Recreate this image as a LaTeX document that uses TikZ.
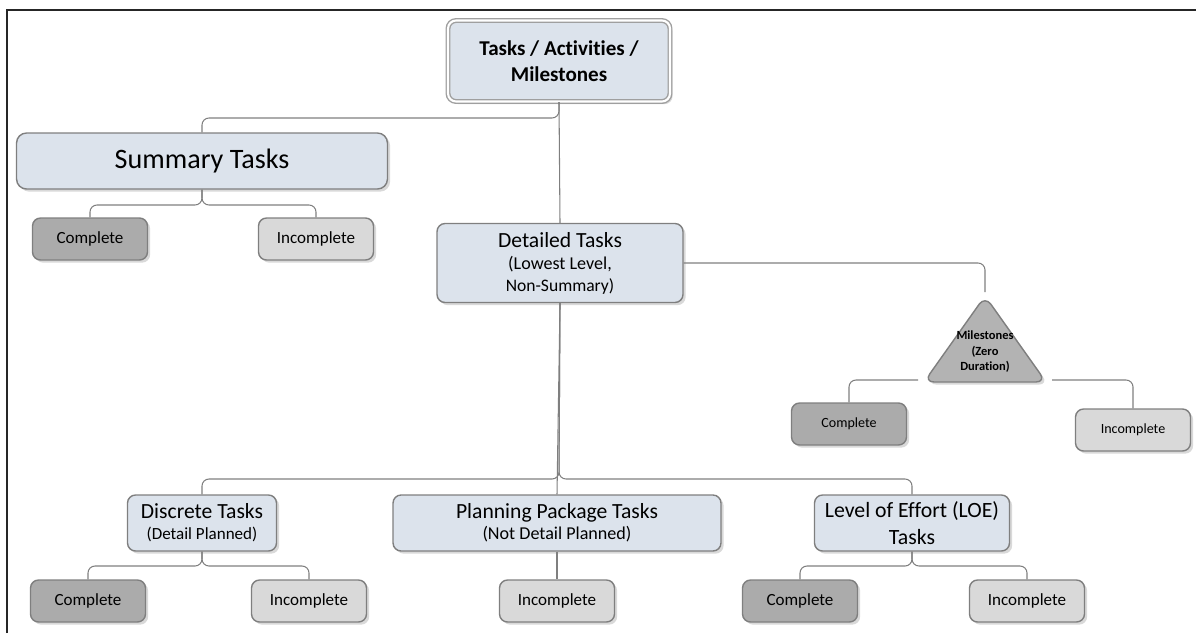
\documentclass[tikz,border=0pt]{standalone}
\usepackage{fontspec}
\setmainfont{Carlito}[Ligatures=NoCommon]
\usetikzlibrary{shadows}
\definecolor{boxblue}{HTML}{DCE3EC}
\definecolor{darkbox}{HTML}{ABABAB}
\definecolor{lightbox}{HTML}{D9D9D9}
\definecolor{msgray}{HTML}{B3B3B3}
\definecolor{linegray}{HTML}{7F7F7F}
\newcommand{\headsize}{\fontsize{12.3}{15}\selectfont}
\newcommand{\notesize}{\fontsize{10.3}{12.5}\selectfont}
\tikzset{
	task/.style={draw=linegray, line width=0.8pt, rounded corners=0.16cm, fill=boxblue, align=center, inner sep=0pt,
		drop shadow={shadow xshift=1.5pt, shadow yshift=-1.5pt, opacity=0.3}},
	compbox/.style={task, fill=darkbox, minimum width=2.3cm, minimum height=0.84cm, font=\fontsize{9.7}{11}\selectfont},
	incbox/.style={compbox, fill=lightbox},
	conn/.style={draw=linegray, line width=0.6pt, rounded corners=0.14cm}
}
\begin{document}
\begin{tikzpicture}[x=0.02cm, y=-0.02cm]
	\useasboundingbox (0, 0) rectangle (1196, 633);
	\draw[line width=1.1pt, black!85] (7, 633) -- (7, 10) -- (1196, 10);
	\node[task, draw=gray!75, double=white, double distance=1.2pt, minimum width=4.44cm, minimum height=1.62cm,
		font=\bfseries\fontsize{12}{15}\selectfont] (top) at (559, 61) {Tasks / Activities /\\Milestones};
	\node[task, minimum width=7.42cm, minimum height=1.12cm, rounded corners=0.2cm, font=\fontsize{16}{19}\selectfont] (summary) at (202, 161) {Summary Tasks};
	\node[compbox] (sC) at (90, 239) {Complete};
	\node[incbox] (sI) at (316, 239) {Incomplete};
	\node[task, minimum width=4.92cm, minimum height=1.58cm] (detailed) at (560, 263) {\headsize Detailed Tasks\\[1pt]\notesize (Lowest Level,\\Non-Summary)};
	\draw[draw=linegray, line width=0.8pt, fill=msgray, rounded corners=0.2cm,
		drop shadow={shadow xshift=1.5pt, shadow yshift=-1.5pt, opacity=0.3}] (985, 296) -- (1046, 382) -- (924, 382) -- cycle;
	\node[align=center, inner sep=0pt, font=\bfseries\fontsize{7.1}{8.8}\selectfont] (ms) at (985, 352) {Milestones\\(Zero\\Duration)};
	\coordinate (mstop) at (985, 292);
	\coordinate (msl) at (918, 380);
	\coordinate (msr) at (1052, 380);
	\node[compbox, font=\fontsize{8}{10}\selectfont] (mC) at (849, 424) {Complete};
	\node[incbox, font=\fontsize{8}{10}\selectfont] (mI) at (1133, 430) {Incomplete};
	\node[task, minimum width=2.98cm, minimum height=1.12cm] (discrete) at (202, 523) {\headsize Discrete Tasks\\\fontsize{9.7}{11.5}\selectfont (Detail Planned)};
	\node[task, minimum width=6.56cm, minimum height=1.12cm] (planning) at (557, 523) {\headsize Planning Package Tasks\\\notesize (Not Detail Planned)};
	\node[task, minimum width=3.9cm, minimum height=1.12cm, font=\fontsize{12.4}{15}\selectfont] (loe) at (912, 523) {Level of Effort (LOE)\\Tasks};
	\node[compbox] (bC) at (88, 601) {Complete};
	\node[incbox] (bI) at (309, 601) {Incomplete};
	\node[incbox] (pI) at (557, 601) {Incomplete};
	\node[compbox] (lC) at (800, 601) {Complete};
	\node[incbox] (lI) at (1027, 601) {Incomplete};
	\draw[conn] (summary.north) |- (559, 118) -- (top.south);
	\draw[conn] (top.south) -- (detailed.north);
	\draw[conn] (sC.north) |- (202, 205) -- (summary.south);
	\draw[conn] (sI.north) |- (202, 205) -- (summary.south);
	\draw[conn] (detailed.east) -| (mstop);
	\draw[conn] (msl) -| (mC.north);
	\draw[conn] (msr) -| (mI.north);
	\draw[conn] (detailed.south) -- (planning.north);
	\draw[conn] (discrete.north) |- (559, 479) -- (detailed.south);
	\draw[conn] (loe.north) |- (559, 479) -- (detailed.south);
	\draw[conn] (bC.north) |- (202, 566) -- (discrete.south);
	\draw[conn] (bI.north) |- (202, 566) -- (discrete.south);
	\draw[conn] (planning.south) -- (pI.north);
	\draw[conn] (lC.north) |- (912, 566) -- (loe.south);
	\draw[conn] (lI.north) |- (912, 566) -- (loe.south);
\end{tikzpicture}
\end{document}
